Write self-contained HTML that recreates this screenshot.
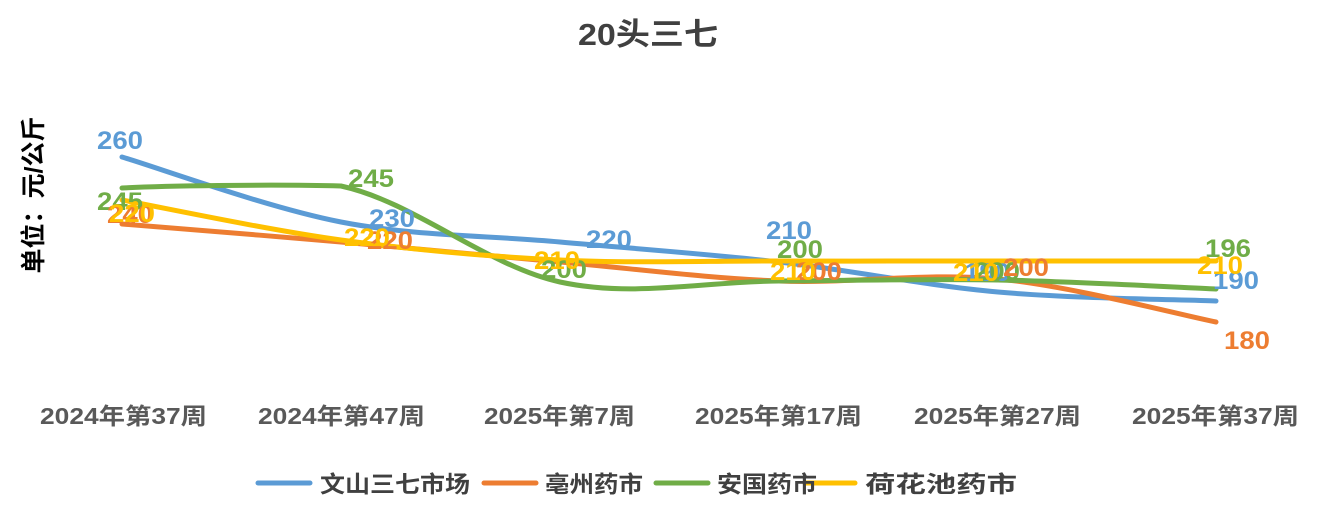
<!DOCTYPE html>
<html><head><meta charset="utf-8"><style>
body{margin:0;background:#fff}
svg text{font-family:"Liberation Sans","Noto Sans CJK SC",sans-serif;font-weight:bold}
</style></head><body>
<svg id="s" width="1319" height="510" viewBox="0 0 1319 510" xmlns="http://www.w3.org/2000/svg">
<text x="578" y="45" font-size="31" fill="#404040" textLength="140">20头三七</text>
<text transform="translate(42,195) rotate(-90)" font-size="25" fill="#000" text-anchor="middle">单位：元/公斤</text>
<g font-size="23" fill="#595959">
<text x="40" y="424" textLength="167">2024年第37周</text><text x="258" y="424" textLength="167">2024年第47周</text>
<text x="484" y="424" textLength="151">2025年第7周</text><text x="695" y="424" textLength="167">2025年第17周</text>
<text x="914" y="424" textLength="167">2025年第27周</text><text x="1132" y="424" textLength="167">2025年第37周</text>
</g>
<g id="lines" fill="none" stroke-width="5" stroke-linecap="round"></g>
<g font-size="25">
<text x="97" y="149" fill="#5b9bd5" textLength="46">260</text>
<text x="369" y="227" fill="#5b9bd5" textLength="46">230</text>
<text x="586" y="248" fill="#5b9bd5" textLength="46">220</text>
<text x="766" y="239" fill="#5b9bd5" textLength="46">210</text>
<text x="964" y="281" fill="#5b9bd5" textLength="46">190</text>
<text x="1213" y="289" fill="#5b9bd5" textLength="46">190</text>
<text x="348" y="187" fill="#70ad47" textLength="46">245</text>
<text x="97" y="210" fill="#70ad47" textLength="46">245</text>
<text x="541" y="278" fill="#70ad47" textLength="46">200</text>
<text x="777" y="258" fill="#70ad47" textLength="46">200</text>
<text x="974" y="280" fill="#70ad47" textLength="46">200</text>
<text x="1205" y="257" fill="#70ad47" textLength="46">196</text>
<text x="107" y="223" fill="#ed7d31" textLength="46">240</text>
<text x="367" y="249" fill="#ed7d31" textLength="46">220</text>
<text x="796" y="280" fill="#ed7d31" textLength="46">200</text>
<text x="1003" y="276" fill="#ed7d31" textLength="46">200</text>
<text x="1224" y="349" fill="#ed7d31" textLength="46">180</text>
<text x="109" y="222" fill="#ffc000" textLength="46">220</text>
<text x="344" y="246" fill="#ffc000" textLength="46">220</text>
<text x="534" y="269" fill="#ffc000" textLength="46">210</text>
<text x="770" y="280" fill="#ffc000" textLength="46">210</text>
<text x="953" y="281" fill="#ffc000" textLength="46">210</text>
<text x="1197" y="274" fill="#ffc000" textLength="46">210</text>
</g>
<g stroke-width="5" stroke-linecap="round">
<line x1="258" y1="483" x2="310" y2="483" stroke="#5b9bd5"/>
<line x1="484" y1="483" x2="536" y2="483" stroke="#ed7d31"/>
<line x1="656" y1="483" x2="708" y2="483" stroke="#70ad47"/>
<line x1="805" y1="483" x2="855" y2="483" stroke="#ffc000"/>
</g>
<g font-size="23" fill="#404040">
<text x="320" y="492" textLength="150">文山三七市场</text><text x="545" y="492" textLength="98">亳州药市</text>
<text x="717" y="492" textLength="100">安国药市</text><text x="865" y="492" textLength="152">荷花池药市</text>
</g>
</svg>
<script>
document.querySelectorAll("text[textLength]").forEach(function(t){t.setAttribute("lengthAdjust","spacingAndGlyphs");});
var X=[122,341,560,779,998,1216];
var S=[["#5b9bd5",[157,222,242,262,292,301]],["#ed7d31",[224,242,262,281,279,322]],["#70ad47",[188,186,282,281,280,289]],["#ffc000",[200,240,260,261,261,261]]];
var g=document.getElementById("lines");
S.forEach(function(s,k){var y=s[1],d="M"+X[0]+","+y[0];
for(var i=0;i<5;i++){var p0=i?i-1:0,p3=i<4?i+2:5;
var c1x=X[i]+(X[i+1]-X[p0])/6,c1y=y[i]+(y[i+1]-y[p0])/6,c2x=X[i+1]-(X[p3]-X[i])/6,c2y=y[i+1]-(y[p3]-y[i])/6;
if(k==2&&i==0){c1y=186;c2y=184;}
d+=" C"+c1x+","+c1y+" "+c2x+","+c2y+" "+X[i+1]+","+y[i+1];}
var p=document.createElementNS("http://www.w3.org/2000/svg","path");p.setAttribute("d",d);p.setAttribute("stroke",s[0]);g.appendChild(p);});
</script>
</body></html>
